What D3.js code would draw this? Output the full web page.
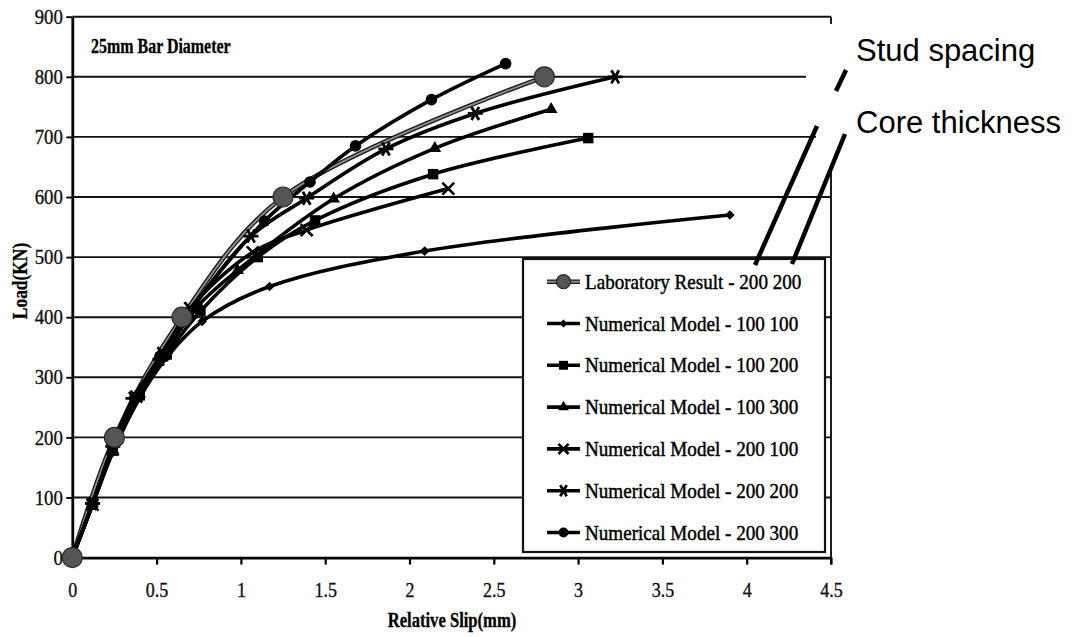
<!DOCTYPE html>
<html>
<head>
<meta charset="utf-8">
<script src="https://cdn.jsdelivr.net/npm/d3@7"></script>
<style>
  html, body { margin: 0; padding: 0; background: #fff; }
  svg { display: block; }
</style>
</head>
<body>
<svg id="chart" width="1074" height="637"></svg>
<script>
// ---- axis ticks ----
const xTickValues = [0, 0.5, 1, 1.5, 2, 2.5, 3, 3.5, 4, 4.5];
const xTickLabels = ["0", "0.5", "1", "1.5", "2", "2.5", "3", "3.5", "4", "4.5"];
const yTickValues = [0, 100, 200, 300, 400, 500, 600, 700, 800, 900];
const yTickLabels = ["0", "100", "200", "300", "400", "500", "600", "700", "800", "900"];

// ---- series: relative slip (mm) and load (kN) ----
const labSlip   = [0, 0.25, 0.65, 1.25, 2.8];
const labLoad   = [0, 200, 400, 600, 800];

const nm100x100Slip = [0, 0.12, 0.24, 0.40, 0.56, 0.77, 1.17, 2.09, 3.90];
const nm100x100Load = [0, 88, 175, 266, 333, 393, 451, 510, 570];

const nm100x200Slip = [0, 0.12, 0.24, 0.40, 0.56, 0.76, 1.10, 1.44, 2.14, 3.06];
const nm100x200Load = [0, 88, 178, 270, 338, 410, 500, 561, 638, 698];

const nm100x300Slip = [0, 0.12, 0.24, 0.40, 0.56, 0.75, 0.98, 1.55, 2.15, 2.84];
const nm100x300Load = [0, 90, 180, 272, 345, 420, 478, 597, 681, 746];

const nm200x100Slip = [0, 0.12, 0.24, 0.38, 0.54, 0.70, 1.07, 1.39, 2.23];
const nm200x100Load = [0, 88, 180, 268, 340, 415, 508, 545, 614];

const nm200x200Slip = [0, 0.12, 0.24, 0.36, 0.52, 0.70, 1.06, 1.39, 1.86, 2.39, 3.22];
const nm200x200Load = [0, 90, 185, 265, 330, 410, 535, 598, 680, 739, 800];

const nm200x300Slip = [0, 0.12, 0.24, 0.37, 0.52, 0.68, 1.14, 1.41, 1.68, 2.13, 2.57];
const nm200x300Load = [0, 90, 185, 265, 335, 405, 560, 625, 685, 762, 822];

const seriesNames = [
  "Laboratory Result - 200 200",
  "Numerical Model - 100 100",
  "Numerical Model - 100 200",
  "Numerical Model - 100 300",
  "Numerical Model - 200 100",
  "Numerical Model - 200 200",
  "Numerical Model - 200 300"
];
const seriesMarkers = ["bigcircle", "diamond", "square", "triangle", "times", "asterisk", "circle"];

const seriesSlip = [labSlip, nm100x100Slip, nm100x200Slip, nm100x300Slip, nm200x100Slip, nm200x200Slip, nm200x300Slip];
const seriesLoad = [labLoad, nm100x100Load, nm100x200Load, nm100x300Load, nm200x100Load, nm200x200Load, nm200x300Load];

const chartTitle = "25mm Bar Diameter";
const xTitle = "Relative Slip(mm)";
const yTitle = "Load(KN)";
const noteSpacing = "Stud spacing";
const noteThickness = "Core thickness";

// ---- layout ----
const svg = d3.select("#chart");
const plot = { left: 72.3, right: 831, top: 16.7, bottom: 557.6 };
const serif = "'Liberation Serif', 'Times New Roman', serif";
const sans = "'Liberation Sans', Arial, sans-serif";

const x = d3.scaleLinear().domain([0, 4.5]).range([plot.left, plot.right]);
const y = d3.scaleLinear().domain([0, 900]).range([plot.bottom, plot.top]);

// text drawn in a horizontally compressed frame
function squeezed(parent, px, py, str, o) {
  const g = parent.append("g")
    .attr("transform", `translate(${px},${py})${o.rotate ? ` rotate(${o.rotate})` : ""} scale(${o.sx},1)`);
  g.append("text")
    .attr("text-anchor", o.anchor || "start")
    .attr("font-family", o.family || serif)
    .attr("font-size", o.size)
    .attr("font-weight", o.weight || "normal")
    .attr("fill", o.fill || "#000")
    .attr("stroke", "#000")
    .attr("stroke-width", o.heavy || 0.35)
    .text(str);
  return g;
}

// ---- gridlines ----
svg.append("g")
  .selectAll("line")
  .data(yTickValues.filter(v => v > 0))
  .join("line")
  .attr("x1", plot.left).attr("x2", plot.right)
  .attr("y1", d => y(d)).attr("y2", d => y(d))
  .attr("stroke", "#111").attr("stroke-width", 1.9);

// right border of plot area
svg.append("line")
  .attr("x1", plot.right).attr("x2", plot.right)
  .attr("y1", plot.top).attr("y2", plot.bottom + 7)
  .attr("stroke", "#111").attr("stroke-width", 1.9);

// ---- axes ----
const xAxis = svg.append("g")
  .attr("transform", `translate(0,${plot.bottom})`)
  .call(d3.axisBottom(x).tickValues(xTickValues).tickFormat((d, i) => xTickLabels[i]).tickSize(7).tickSizeOuter(0));
xAxis.select(".domain").attr("stroke", "#000").attr("stroke-width", 2.8);
xAxis.selectAll(".tick line").attr("stroke", "#000").attr("stroke-width", 2.2);
xAxis.selectAll(".tick text")
  .attr("y", 39).attr("dy", 0)
  .attr("font-family", serif).attr("font-size", 20).attr("fill", "#111")
  .attr("stroke", "#111").attr("stroke-width", 0.35)
  .attr("transform", "scale(0.9,1)");

const yAxis = svg.append("g")
  .attr("transform", `translate(${plot.left},0)`)
  .call(d3.axisLeft(y).tickValues(yTickValues).tickFormat((d, i) => yTickLabels[i]).tickSize(6).tickSizeOuter(0));
yAxis.select(".domain").attr("stroke", "#000").attr("stroke-width", 2.8);
yAxis.selectAll(".tick line").attr("stroke", "#000").attr("stroke-width", 1.9);
yAxis.selectAll(".tick text")
  .attr("x", -10).attr("dy", "0.33em")
  .attr("font-family", serif).attr("font-size", 20).attr("fill", "#111")
  .attr("stroke", "#111").attr("stroke-width", 0.35)
  .attr("transform", "scale(0.94,1)");

// ---- titles ----
squeezed(svg, 91, 53, chartTitle, { size: 21, weight: "bold", sx: 0.76, heavy: 0.3 });
squeezed(svg, 452, 627, xTitle, { size: 20, weight: "bold", sx: 0.83, anchor: "middle", heavy: 0.3 });
squeezed(svg, 27, 281, yTitle, { size: 20, weight: "bold", sx: 0.87, anchor: "middle", rotate: -90, heavy: 0.3 });

// ---- markers ----
function drawMarker(g, type, cx, cy, k) {
  k = k || 1;
  if (type === "bigcircle") {
    g.append("circle").attr("cx", cx).attr("cy", cy).attr("r", 10 * k)
      .attr("fill", "#555").attr("stroke", "#2a2a2a").attr("stroke-width", 1.2);
  } else if (type === "circle") {
    g.append("circle").attr("cx", cx).attr("cy", cy).attr("r", 5.8 * k).attr("fill", "#000");
  } else if (type === "diamond") {
    g.append("path").attr("d", d3.symbol(d3.symbolSquare, 46 * k * k)())
      .attr("transform", `translate(${cx},${cy}) rotate(45)`).attr("fill", "#000");
  } else if (type === "square") {
    g.append("path").attr("d", d3.symbol(d3.symbolSquare, 110 * k * k)())
      .attr("transform", `translate(${cx},${cy})`).attr("fill", "#000");
  } else if (type === "triangle") {
    g.append("path").attr("d", d3.symbol(d3.symbolTriangle, 70 * k * k)())
      .attr("transform", `translate(${cx},${cy})`).attr("fill", "#000");
  } else if (type === "times") {
    g.append("path").attr("d", d3.symbol(d3.symbolTimes, 95 * k * k)())
      .attr("transform", `translate(${cx},${cy})`).attr("fill", "none")
      .attr("stroke", "#000").attr("stroke-width", 2.6);
  } else if (type === "asterisk") {
    g.append("path").attr("d", d3.symbol(d3.symbolAsterisk, 160 * k * k)())
      .attr("transform", `translate(${cx},${cy}) rotate(90)`).attr("fill", "none")
      .attr("stroke", "#000").attr("stroke-width", 2.8);
  }
}

// ---- curves ----
const line = d3.line()
  .x(d => x(d[0])).y(d => y(d[1]))
  .curve(d3.curveCatmullRom.alpha(0.5));

const seriesPoints = seriesSlip.map((s, i) => s.map((v, j) => [v, seriesLoad[i][j]]));

const linesG = svg.append("g");
seriesPoints.forEach((pts, i) => {
  if (i === 0) {
    linesG.append("path").attr("d", line(pts)).attr("fill", "none")
      .attr("stroke", "#1a1a1a").attr("stroke-width", 4.6);
    linesG.append("path").attr("d", line(pts)).attr("fill", "none")
      .attr("stroke", "#8c8c8c").attr("stroke-width", 1.9);
  } else {
    linesG.append("path").attr("d", line(pts)).attr("fill", "none")
      .attr("stroke", "#000").attr("stroke-width", 3.6);
  }
});

const markG = svg.append("g");
[1, 2, 3, 4, 5, 6, 0].forEach(i => {
  seriesPoints[i].forEach(p => drawMarker(markG, seriesMarkers[i], x(p[0]), y(p[1])));
});

// ---- legend ----
const legend = { x: 523, y: 259, w: 302, h: 293, row0: 22.7, step: 41.8 };
const legG = svg.append("g").attr("transform", `translate(${legend.x},${legend.y})`);
legG.append("rect").attr("width", legend.w).attr("height", legend.h)
  .attr("fill", "#fff").attr("stroke", "#111").attr("stroke-width", 2.2);
seriesNames.forEach((name, i) => {
  const cy = legend.row0 + i * legend.step;
  if (i === 0) {
    legG.append("line").attr("x1", 24).attr("x2", 57).attr("y1", cy).attr("y2", cy)
      .attr("stroke", "#1a1a1a").attr("stroke-width", 4.6);
    legG.append("line").attr("x1", 24).attr("x2", 57).attr("y1", cy).attr("y2", cy)
      .attr("stroke", "#8c8c8c").attr("stroke-width", 1.9);
    drawMarker(legG, "bigcircle", 40.5, cy, 0.7);
  } else {
    legG.append("line").attr("x1", 24).attr("x2", 57).attr("y1", cy).attr("y2", cy)
      .attr("stroke", "#000").attr("stroke-width", 3.6);
    drawMarker(legG, seriesMarkers[i], 40.5, cy, 0.85);
  }
  squeezed(legG, 62, cy + 7, name, { size: 21, sx: 0.91, heavy: 0.45 });
});

// ---- annotation pointing at the legend numbers ----
const noteG = svg.append("g");
noteG.append("rect").attr("x", 806).attr("y", 24).attr("width", 268).attr("height", 72).attr("fill", "#fff");
noteG.append("rect").attr("x", 816).attr("y", 96).attr("width", 258).attr("height", 72).attr("fill", "#fff");
const pointerSegments = [
  [[846, 70], [836, 91]],
  [[817, 126], [755, 265]],
  [[845, 134], [792, 264]]
];
noteG.selectAll("line.pointer")
  .data(pointerSegments)
  .join("line")
  .attr("class", "pointer")
  .attr("x1", d => d[0][0]).attr("y1", d => d[0][1])
  .attr("x2", d => d[1][0]).attr("y2", d => d[1][1])
  .attr("stroke", "#000").attr("stroke-width", 4.5);
noteG.append("text").attr("x", 856).attr("y", 61)
  .attr("font-family", sans).attr("font-size", 31).attr("fill", "#000").text(noteSpacing);
noteG.append("text").attr("x", 856).attr("y", 133)
  .attr("font-family", sans).attr("font-size", 31).attr("fill", "#000").text(noteThickness);
</script>
</body>
</html>
